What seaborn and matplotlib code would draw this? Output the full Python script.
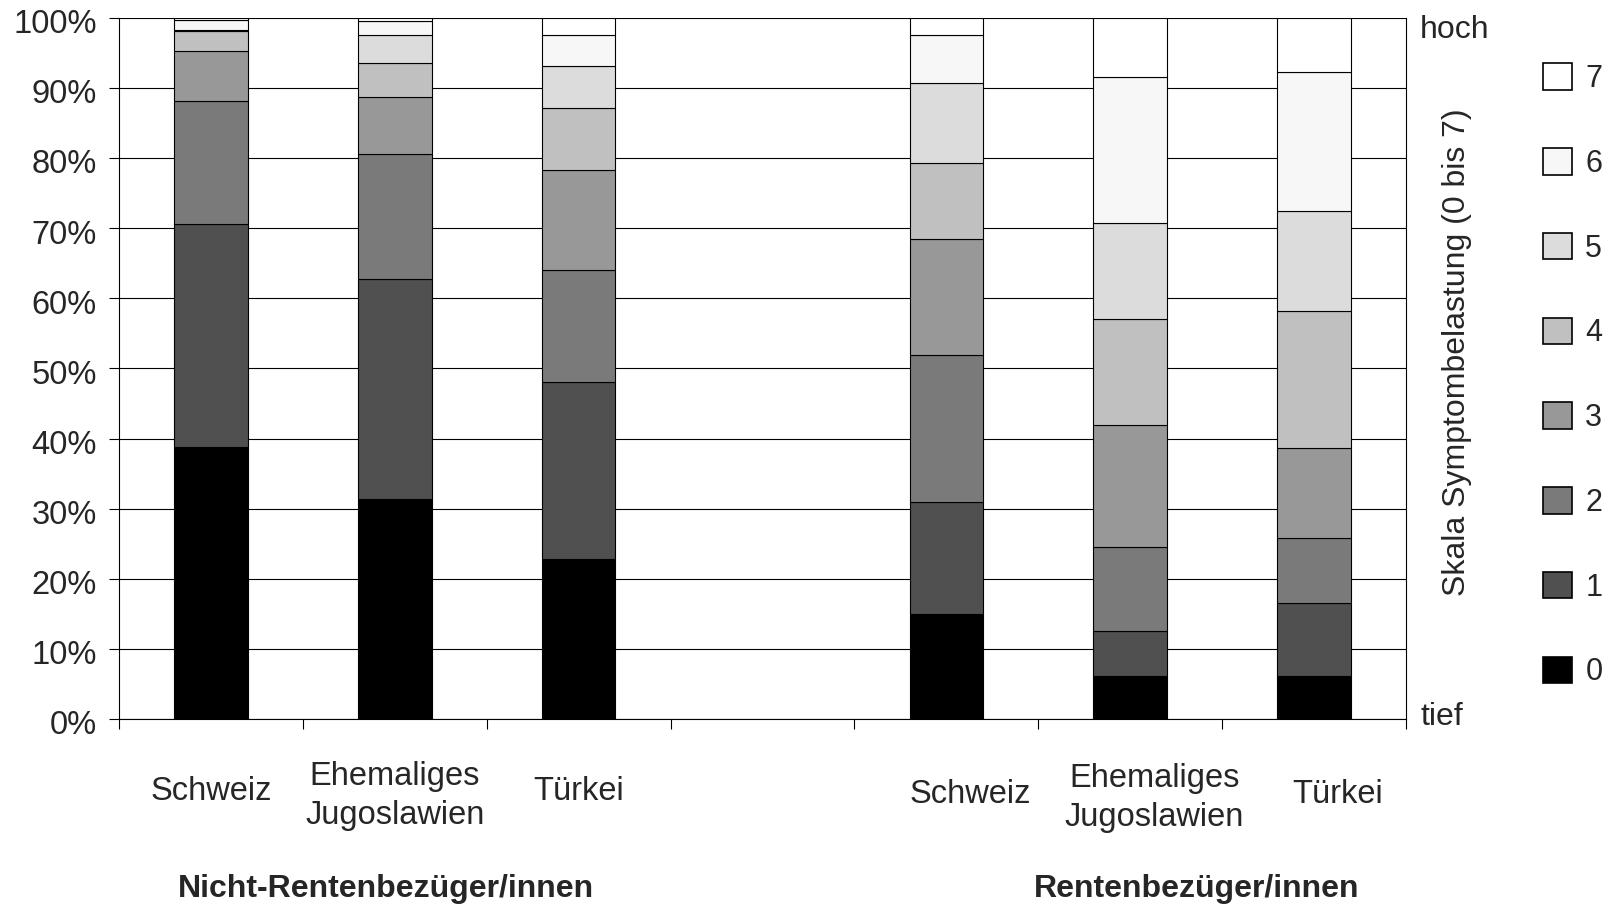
import pandas as pd
import seaborn as sns
import matplotlib.pyplot as plt
from matplotlib.patches import Patch
from matplotlib.transforms import ScaledTranslation

# categories (slot 3 is the empty gap between the two groups)
bar_pos = [0, 1, 2, 4, 5, 6]
left_labels = ['Schweiz', 'Ehemaliges\nJugoslawien', 'Türkei']
right_labels = ['Schweiz', 'Ehemaliges\nJugoslawien', 'Türkei']
group_labels = ['Nicht-Rentenbezüger/innen', 'Rentenbezüger/innen']

# share (%) per level of the symptom scale, one value per bar
levels = ['0', '1', '2', '3', '4', '5', '6', '7']
pct_0 = [38.8, 31.4, 22.8, 15.0, 6.1, 6.1]
pct_1 = [31.8, 31.4, 25.2, 15.9, 6.4, 10.4]
pct_2 = [17.5, 17.8, 16.1, 21.0, 12.0, 9.3]
pct_3 = [7.2, 8.1, 14.2, 16.6, 17.4, 12.8]
pct_4 = [2.8, 4.8, 8.8, 10.8, 15.1, 19.6]
pct_5 = [0.2, 4.1, 6.0, 11.4, 13.8, 14.2]
pct_6 = [1.4, 1.9, 4.5, 6.9, 20.7, 19.9]
pct_7 = [0.3, 0.5, 2.4, 2.4, 8.5, 7.7]
colors = ['#000000', '#505050', '#7a7a7a', '#989898',
          '#c0c0c0', '#dcdcdc', '#f7f7f7', '#ffffff']

all_pct = [pct_0, pct_1, pct_2, pct_3, pct_4, pct_5, pct_6, pct_7]
rows = []
for lev, vals in zip(levels, all_pct):
    for p, v in zip(bar_pos, vals):
        rows.append({'pos': p, 'level': lev, 'pct': v})
df = pd.DataFrame(rows)

sns.set_style('white')
plt.rcParams['font.family'] = ['Liberation Sans', 'DejaVu Sans']

fig = plt.figure(figsize=(16.22, 9.06), dpi=100)
ax = fig.add_axes([0.0734, 0.2064, 0.7934, 0.7740])

ax.yaxis.grid(True, color='black', linewidth=0.8)
ax.set_axisbelow(True)

palette = dict(zip(levels, colors))
sns.histplot(data=df, x='pos', weights='pct', hue='level',
             hue_order=levels[::-1], palette=palette, multiple='stack',
             discrete=True, shrink=0.4, edgecolor='black', linewidth=0.8,
             alpha=1, legend=False, ax=ax)

# the empty gap slot gets zero-height bars, drop them
for p in list(ax.patches):
    if p.get_height() == 0:
        p.remove()

ax.set_xlim(-0.5, 6.5)
ax.set_ylim(0, 100)
ax.set_yticks(range(0, 101, 10))
ax.set_yticklabels([f'{v}%' for v in range(0, 101, 10)], fontsize=23.5)
ax.set_xticks([x - 0.5 for x in range(8)])
ax.set_xticklabels([])
ax.tick_params(axis='both', direction='out', length=7, width=0.8,
               color='black', left=True, bottom=True)
ax.tick_params(axis='y', pad=9)
shift = ScaledTranslation(0, -2.5 / 72, fig.dpi_scale_trans)
for lab in ax.get_yticklabels():
    lab.set_transform(lab.get_transform() + shift)
ax.set_xlabel('')
ax.set_ylabel('')
for s in ['left', 'bottom', 'right']:
    ax.spines[s].set_visible(True)
    ax.spines[s].set_color('black')
    ax.spines[s].set_linewidth(0.8)
ax.spines['top'].set_visible(False)

# category and group labels under the axis
tr = ax.get_xaxis_transform()
for x, lab in zip(bar_pos[:3], left_labels):
    yy = -0.110 if '\n' in lab else -0.104
    ax.text(x, yy, lab, transform=tr, ha='center', va='center',
            fontsize=23.5, linespacing=1.32)
for x, lab in zip(bar_pos[3:], right_labels):
    yy = -0.113 if '\n' in lab else -0.107
    ax.text(x + 0.13, yy, lab, transform=tr, ha='center', va='center',
            fontsize=23.5, linespacing=1.32)
ax.text(0.95, -0.242, group_labels[0], transform=tr, ha='center',
        va='center', fontsize=23, fontweight='bold')
ax.text(5.36, -0.242, group_labels[1], transform=tr, ha='center',
        va='center', fontsize=23, fontweight='bold')

# secondary scale text on the right
ax.text(1.011, 0.982, 'hoch', transform=ax.transAxes, ha='left',
        va='center', fontsize=23)
ax.text(1.011, 0.003, 'tief', transform=ax.transAxes, ha='left',
        va='center', fontsize=23)
ax.text(1.040, 0.523, 'Skala Symptombelastung (0 bis 7)',
        transform=ax.transAxes, rotation=90, ha='center', va='center',
        fontsize=23)

handles = [Patch(facecolor=c, edgecolor='black', linewidth=1.2)
           for c in colors[::-1]]
fig.legend(handles, levels[::-1], loc='upper left',
           bbox_to_anchor=(0.951, 0.930), frameon=False, fontsize=22,
           handlelength=0.95, handleheight=0.95, handletextpad=0.45,
           labelspacing=1.77, borderpad=0, borderaxespad=0)

fig.savefig('out.png', dpi=100)
